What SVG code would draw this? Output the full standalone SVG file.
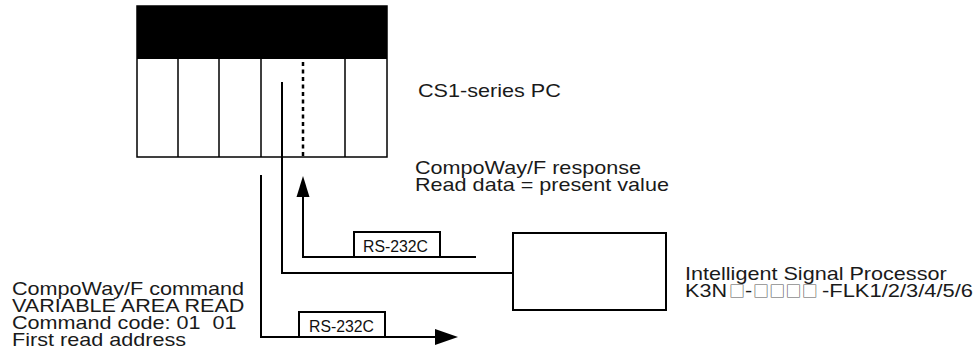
<svg xmlns="http://www.w3.org/2000/svg" width="978" height="364" viewBox="0 0 978 364">
<style>
.t{font-family:"Liberation Sans",Arial,sans-serif;font-size:18px;fill:#1a1a1a}
.rs{font-family:"Liberation Sans",Arial,sans-serif;font-size:16px;fill:#111}
.ln{fill:none;stroke:#000;stroke-width:2}
.box{fill:#fff;stroke:#000;stroke-width:2}
.sq{font-family:"Noto Sans CJK JP","DejaVu Sans",sans-serif;font-size:16px;fill:#555}
</style>
<g id="pc">
<rect x="137" y="6" width="250" height="151" fill="#fff" stroke="#000" stroke-width="1.5"/>
<rect x="137" y="6" width="250" height="53" fill="#000"/>
<path d="M178,59 V157 M219,59 V157 M261,59 V157 M345,59 V157" stroke="#000" stroke-width="1.5" fill="none"/>
<line x1="303" y1="62" x2="303" y2="156" stroke="#000" stroke-width="2.5" stroke-dasharray="4,3.5"/>
<text class="t" transform="translate(418,97) scale(1.2,1)">CS1-series PC</text>
</g>
<g id="isp">
<rect class="box" x="513" y="233" width="153" height="77"/>
<text class="t" transform="translate(685,280) scale(1.2,1)">Intelligent Signal Processor</text>
<text class="t" y="297"><tspan x="685" textLength="42" lengthAdjust="spacingAndGlyphs">K3N</tspan><tspan class="sq" x="729">□</tspan><tspan x="745" textLength="7.2" lengthAdjust="spacingAndGlyphs">-</tspan><tspan class="sq" x="753 769.25 785.5 801.75">□□□□</tspan><tspan x="822" textLength="151" lengthAdjust="spacingAndGlyphs">-FLK1/2/3/4/5/6</tspan></text>
</g>
<g id="connectors">
<path class="ln" d="M282,82 V273 H513"/>
<path class="ln" d="M476,257 H303 V196"/>
<path d="M303,176 L309.5,197 L296.5,197 Z" fill="#000"/>
<path class="ln" d="M261,175 V337 H436"/>
<path d="M458,337 L435,329 L435,345 Z" fill="#000"/>
</g>
<g id="rs232c-response">
<rect class="box" x="354" y="232" width="86" height="25"/>
<text class="rs" x="363" y="252" textLength="65" lengthAdjust="spacingAndGlyphs">RS-232C</text>
</g>
<g id="rs232c-command">
<rect class="box" x="299" y="312" width="86" height="25"/>
<text class="rs" x="309" y="332" textLength="65" lengthAdjust="spacingAndGlyphs">RS-232C</text>
</g>
<g id="response-label">
<text class="t" transform="translate(415,174) scale(1.2,1)">CompoWay/F response</text>
<text class="t" transform="translate(415,191) scale(1.2,1)">Read data = present value</text>
</g>
<g id="command-label">
<text class="t" transform="translate(12,295) scale(1.2,1)">CompoWay/F command</text>
<text class="t" transform="translate(12,312) scale(1.2,1)">VARIABLE AREA READ</text>
<text class="t" transform="translate(12,329) scale(1.2,1)" xml:space="preserve">Command code: 01  01</text>
<text class="t" transform="translate(12,346) scale(1.2,1)">First read address</text>
</g>
</svg>
